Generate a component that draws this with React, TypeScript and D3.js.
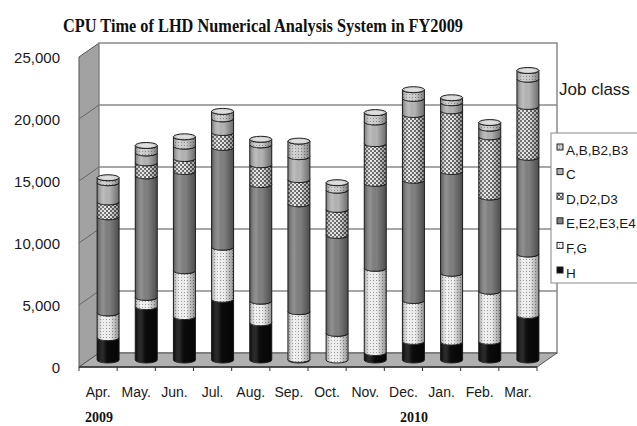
import React from "react";
import * as d3 from "d3";

const months = ["Apr.", "May.", "Jun.", "Jul.", "Aug.", "Sep.", "Oct.", "Nov.", "Dec.", "Jan.", "Feb.", "Mar."];
const yearLabels = [
  { label: "2009", month: "Apr." },
  { label: "2010", month: "Dec." },
];
const seriesNames = ["A,B,B2,B3", "C", "D,D2,D3", "E,E2,E3,E4", "F,G", "H"];
const seriesH = [1800, 4300, 3500, 4900, 3000, 50, 0, 600, 1500, 1450, 1500, 3600];
const seriesFG = [2000, 750, 3700, 4200, 1750, 3850, 2150, 6800, 3300, 5550, 4050, 4950];
const seriesE = [7750, 9800, 8000, 8050, 9400, 8700, 7900, 6850, 9700, 8200, 7600, 7800];
const seriesD = [1200, 1050, 1050, 1200, 1600, 1950, 2100, 3200, 5300, 4900, 4850, 4100];
const seriesC = [1550, 800, 1000, 1100, 1600, 1850, 1550, 1750, 1300, 650, 700, 2200];
const seriesA = [400, 600, 750, 600, 450, 1250, 600, 750, 700, 400, 450, 700];
const yTicks = [0, 5000, 10000, 15000, 20000, 25000];
const title = "CPU Time of LHD Numerical Analysis System in FY2009";
const legendTitle = "Job class";

// stacking order bottom -> top
const stackKeys = ["H", "F,G", "E,E2,E3,E4", "D,D2,D3", "C", "A,B,B2,B3"];
const seriesByKey: Record<string, number[]> = {
  "H": seriesH,
  "F,G": seriesFG,
  "E,E2,E3,E4": seriesE,
  "D,D2,D3": seriesD,
  "C": seriesC,
  "A,B,B2,B3": seriesA,
};
const fills: Record<string, string> = {
  "H": "#0a0a0a",
  "F,G": "url(#patFG)",
  "E,E2,E3,E4": "#808080",
  "D,D2,D3": "url(#patD)",
  "C": "#b4b4b4",
  "A,B,B2,B3": "url(#patA)",
};

const W = 637, H = 426;
const X0 = 79, X1 = 537; // front plane x
const DX = 20, DY = -14; // depth offset
const Y0 = 367, Y1 = 57; // front plane y for 0 and 25000

export default function App() {
  const table = months.map((m, i) => {
    const row: any = { month: m };
    stackKeys.forEach((k) => (row[k] = seriesByKey[k][i]));
    return row;
  });
  const stacked = d3.stack<any>().keys(stackKeys)(table);

  const x = d3.scaleBand<string>().domain(months).range([X0, X1]).paddingInner(0).paddingOuter(0);
  const y = d3.scaleLinear().domain([0, 25000]).range([Y0, Y1]);
  const yBack = (v: number) => y(v) + DY;
  const yMid = (v: number) => y(v) + DY / 2;

  const r = 11, ry = 3;
  const seg = (cx: number, y0: number, y1: number) =>
    `M${cx - r},${y1} L${cx - r},${y0} A${r},${ry} 0 0 0 ${cx + r},${y0} L${cx + r},${y1} A${r},${ry} 0 0 1 ${cx - r},${y1} Z`;

  const bw = x.bandwidth();
  const cxOf = (m: string) => (x(m) as number) + bw / 2 + DX / 2;

  const legendX = 551, legendY = 133;

  return (
    <svg width={W} height={H} style={{ position: "absolute", left: 0, top: 0, background: "#fff" }}
      fontFamily="'Liberation Sans', Arial, sans-serif">
      <defs>
        <pattern id="patFG" width="3" height="3" patternUnits="userSpaceOnUse">
          <rect width="3" height="3" fill="#f2f2f2" />
          <rect x="1" y="1" width="1" height="1" fill="#9a9a9a" />
        </pattern>
        <pattern id="patD" width="4" height="4" patternUnits="userSpaceOnUse">
          <rect width="4" height="4" fill="#e8e8e8" />
          <rect x="0" y="0" width="2" height="2" fill="#6a6a6a" />
          <rect x="2" y="2" width="2" height="2" fill="#6a6a6a" />
        </pattern>
        <pattern id="patA" width="3" height="3" patternUnits="userSpaceOnUse">
          <rect width="3" height="3" fill="#cfcfcf" />
          <rect x="1" y="1" width="1" height="1" fill="#8a8a8a" />
        </pattern>
        <linearGradient id="shade" x1="0" x2="1" y1="0" y2="0">
          <stop offset="0" stopColor="#000" stopOpacity="0.35" />
          <stop offset="0.3" stopColor="#fff" stopOpacity="0.12" />
          <stop offset="0.55" stopColor="#000" stopOpacity="0" />
          <stop offset="1" stopColor="#000" stopOpacity="0.4" />
        </linearGradient>
      </defs>

      {/* title */}
      <text x={63} y={32} textLength={400} lengthAdjust="spacingAndGlyphs"
        fontFamily="'Liberation Serif', 'Times New Roman', serif"
        fontWeight="bold" fontSize={19} fill="#111">{title}</text>

      {/* left wall */}
      <path d={`M${X0},${y(0)} L${X0},${y(25000)} L${X0 + DX},${yBack(25000)} L${X0 + DX},${yBack(0)} Z`}
        fill="#a2a2a2" stroke="#555" strokeWidth={1} />
      {/* back wall */}
      <rect x={X0 + DX} y={yBack(25000)} width={X1 - X0} height={yBack(0) - yBack(25000)} fill="#fff"
        stroke="#8a8a8a" strokeWidth={1.5} />
      {/* gridlines */}
      {yTicks.filter((t) => t > 0 && t < 25000).map((t) => (
        <g key={t}>
          <line x1={X0 + DX} x2={X1 + DX} y1={yBack(t)} y2={yBack(t)} stroke="#8a8a8a" strokeWidth={1.5} />
          <line x1={X0} x2={X0 + DX} y1={y(t)} y2={yBack(t)} stroke="#666" strokeWidth={1} />
        </g>
      ))}
      {/* floor */}
      <path d={`M${X0},${y(0)} L${X1},${y(0)} L${X1 + DX},${yBack(0)} L${X0 + DX},${yBack(0)} Z`}
        fill="#b0b0b0" stroke="#555" strokeWidth={1} />
      <line x1={X0} x2={X1} y1={y(0)} y2={y(0)} stroke="#333" strokeWidth={1.5} />
      {months.map((m) => (
        <line key={m} x1={(x(m) as number) + bw} x2={(x(m) as number) + bw} y1={y(0)} y2={y(0) + 4}
          stroke="#333" strokeWidth={1} />
      ))}
      <line x1={X0} x2={X0} y1={y(0)} y2={y(0) + 4} stroke="#333" strokeWidth={1} />

      {/* y labels */}
      {yTicks.map((t) => (
        <text key={t} x={60} y={y(t) + 2} textAnchor="end" dominantBaseline="middle" fontSize={15} fill="#1a1a1a">
          {d3.format(",")(t)}
        </text>
      ))}

      {/* bars */}
      {months.map((m, i) => {
        const cx = cxOf(m);
        const total = stacked[stacked.length - 1][i][1];
        return (
          <g key={m}>
            {stacked.map((s) => {
              const [v0, v1] = s[i];
              if (v1 - v0 <= 0) return null;
              return (
                <path key={s.key} d={seg(cx, yMid(v0), yMid(v1))} fill={fills[s.key]} stroke="#222" strokeWidth={1} />
              );
            })}
            <path d={seg(cx, yMid(0), yMid(total))} fill="url(#shade)" stroke="none" />
            <ellipse cx={cx} cy={yMid(total)} rx={r} ry={ry} fill="#c8c8c8" stroke="#222" strokeWidth={1} />
            <ellipse cx={cx} cy={yMid(total)} rx={r - 3} ry={ry - 1.2} fill="#dedede" stroke="none" />
          </g>
        );
      })}

      {/* x labels */}
      {months.map((m) => (
        <text key={m} x={(x(m) as number) + bw / 2} y={393} textAnchor="middle" dominantBaseline="middle"
          fontSize={14} fill="#1a1a1a">{m}</text>
      ))}
      {yearLabels.map((yl) => (
        <text key={yl.label} x={yl.label === "2009" ? 85 : 400} y={422}
          fontFamily="'Liberation Serif', 'Times New Roman', serif" fontWeight="bold" fontSize={14} fill="#111">
          {yl.label}
        </text>
      ))}

      {/* legend */}
      <text x={559} y={91} dominantBaseline="middle" fontSize={17} fill="#1a1a1a">{legendTitle}</text>
      <rect x={legendX} y={legendY} width={100} height={150} fill="#fff" stroke="#888" strokeWidth={1} />
      {seriesNames.map((name, i) => {
        const ly = 150 + i * 24.6;
        return (
          <g key={name}>
            <rect x={557} y={ly - 6} width={6} height={6} fill={fills[name]} stroke="#222" strokeWidth={1} />
            <text x={566} y={ly + 1} dominantBaseline="middle" fontSize={13.5} fill="#1a1a1a">{name}</text>
          </g>
        );
      })}
    </svg>
  );
}
